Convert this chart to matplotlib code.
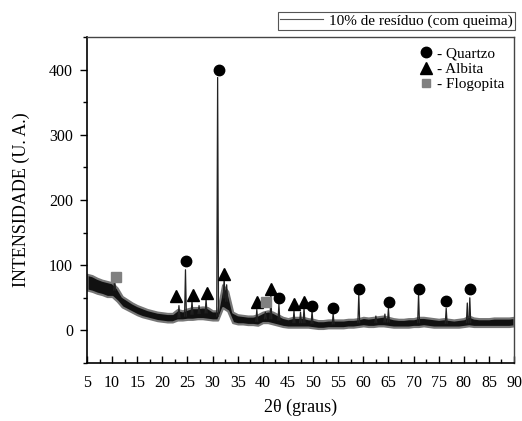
import matplotlib
matplotlib.use("Agg")
import matplotlib.pyplot as plt
from matplotlib.lines import Line2D
from matplotlib.ticker import MultipleLocator

plt.rcParams['font.family'] = ['Liberation Serif', 'DejaVu Serif']

# noise band envelope of the diffractogram (1 deg step)
env_x = list(range(5, 91))
env_lo = [62, 60, 57, 55, 52, 52, 45, 36, 32, 28, 24, 21, 19, 17, 15, 14, 13, 13, 16, 16,
          17, 17, 18, 18, 17, 16, 16, 35, 30, 12, 10, 10, 9, 9, 8, 12, 12, 10, 8, 6,
          5, 5, 5, 5, 5, 4, 3, 3, 4, 4, 4, 4, 5, 5, 6, 7, 6, 6, 7, 7,
          6, 5, 5, 5, 5, 6, 6, 7, 6, 5, 5, 5, 5, 5, 5, 6, 7, 6, 6, 6,
          6, 6, 6, 6, 6, 7]
env_hi = [86, 84, 80, 77, 75, 73, 65, 52, 47, 42, 38, 35, 32, 30, 28, 27, 26, 26, 32, 30,
          33, 35, 35, 36, 35, 30, 30, 70, 60, 28, 24, 23, 22, 22, 24, 28, 30, 28, 24, 20,
          18, 20, 20, 20, 18, 17, 15, 15, 16, 16, 16, 16, 17, 17, 18, 20, 19, 20, 21, 22,
          20, 18, 17, 17, 18, 18, 20, 20, 19, 18, 17, 18, 17, 16, 17, 18, 22, 19, 18, 18,
          18, 19, 19, 19, 19, 20]

# diffraction peaks: position, top intensity, base intensity
peak_pos = [10.5, 23.3, 24.6, 25.9, 27.3, 28.7, 31.0, 32.3, 32.8, 38.8, 40.5, 41.6, 43.2,
            46.2, 47.5, 48.2, 49.8, 54.0, 59.1, 62.5, 64.3, 65.0, 71.0, 76.5, 80.7, 81.2]
peak_top = [78, 38, 93, 45, 38, 48, 388, 80, 70, 32, 28, 53, 40,
            30, 28, 35, 30, 26, 56, 22, 25, 34, 56, 34, 42, 50]
peak_base = [62, 20, 22, 25, 26, 27, 22, 50, 45, 14, 18, 18, 16,
             12, 12, 12, 11, 10, 12, 12, 13, 13, 12, 11, 12, 12]

# phase markers
quartzo_x = [24.7, 31.3, 43.2, 49.8, 54.0, 59.2, 65.1, 71.1, 76.5, 81.2]
quartzo_y = [107, 400, 50, 38, 35, 64, 44, 64, 45, 63]
albita_x = [22.7, 26.1, 28.9, 32.3, 38.8, 41.6, 46.2, 48.2]
albita_y = [53, 55, 58, 87, 43, 64, 40, 44]
flogo_x = [10.8, 40.6]
flogo_y = [82, 43]

fig = plt.figure(figsize=(5.22, 4.21), dpi=100)
ax = fig.add_axes([0.1667, 0.1378, 0.818, 0.7742])

ax.fill_between(env_x, env_lo, env_hi, facecolor='#111111', linewidth=1.6,
                edgecolor='#777777')
for p, t, b in zip(peak_pos, peak_top, peak_base):
    ax.plot([p - 0.18, p, p + 0.18], [b, t, b], color='#222222', lw=0.9)

ax.plot(quartzo_x, quartzo_y, 'o', color='black', ms=7.5, ls='none')
ax.plot(albita_x, albita_y, '^', color='black', ms=8, ls='none')
ax.plot(flogo_x, flogo_y, 's', color='#808080', ms=6.5, ls='none')

ax.set_xlim(5, 90)
ax.set_ylim(-50, 450)
ax.xaxis.set_major_locator(MultipleLocator(5))
ax.xaxis.set_minor_locator(MultipleLocator(2.5))
ax.yaxis.set_minor_locator(MultipleLocator(50))
ax.set_yticks([0, 100, 200, 300, 400])
ax.tick_params(axis='x', which='major', direction='in', length=5, width=1, labelsize=11.5, pad=9)
ax.tick_params(axis='x', which='minor', direction='in', length=3, width=1)
ax.tick_params(axis='y', which='major', direction='out', length=5, width=1, labelsize=11.5, pad=5)
ax.tick_params(axis='y', which='minor', direction='out', length=3, width=1)
for s in ['left', 'bottom']:
    ax.spines[s].set_linewidth(1.2)
for s in ['top', 'right']:
    ax.spines[s].set_color('#444444')
    ax.spines[s].set_linewidth(1.0)

ax.set_xlabel('2θ (graus)', fontsize=13, labelpad=5)
ax.set_ylabel('INTENSIDADE (U. A.)', fontsize=13, labelpad=14)

handles = [Line2D([], [], marker='o', color='black', ls='none', ms=7.5),
           Line2D([], [], marker='^', color='black', ls='none', ms=8),
           Line2D([], [], marker='s', color='#808080', ls='none', ms=6)]
ax.legend(handles, ['- Quartzo', '- Albita', '- Flogopita'], loc='upper right',
          frameon=False, fontsize=11, handletextpad=0.2, labelspacing=0.1,
          borderaxespad=0.25, handlelength=1.0)

lh = [Line2D([], [], color='#555555', lw=0.8)]
leg = fig.legend(lh, ['10% de resíduo (com queima)'], loc='upper right',
                 bbox_to_anchor=(0.987, 0.972), fontsize=11, fancybox=False,
                 framealpha=1, edgecolor='#555555', borderpad=0.15,
                 handlelength=2.8, handletextpad=0.4, borderaxespad=0)
leg.get_frame().set_linewidth(0.8)

fig.savefig('out.png', dpi=100)
